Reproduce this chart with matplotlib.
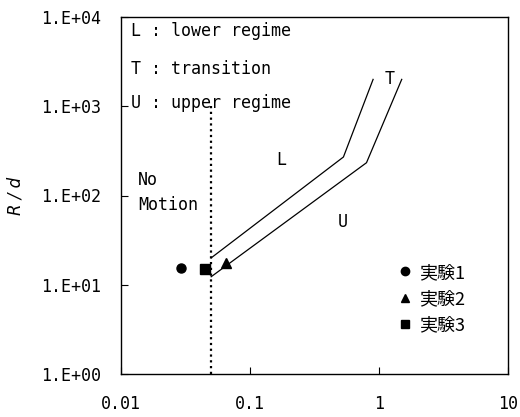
import matplotlib.pyplot as plt

# boundary lines of the transition band
upper_x = [0.05, 0.53, 0.9]
upper_y = [20, 270, 2000]
lower_x = [0.05, 0.8, 1.5]
lower_y = [12.3, 233, 2000]

# no-motion limit
limit_x = 0.05
limit_y = [1, 1000]

# experiments
exp_labels = ['実験1', '実験2', '実験3']
exp_x = [0.029, 0.065, 0.045]
exp_y = [15.3, 17.5, 15.0]
exp_markers = ['o', '^', 's']

mono = ['DejaVu Sans Mono', 'Noto Sans CJK JP']
plt.rcParams['font.family'] = mono

fig = plt.figure(figsize=(5.2, 4.17), dpi=100)
ax = fig.add_axes([121/520, 1 - 374/417, (508 - 121)/520, (374 - 17)/417])

ax.plot(upper_x, upper_y, color='black', lw=0.9)
ax.plot(lower_x, lower_y, color='black', lw=0.9)
ax.plot([limit_x, limit_x], limit_y, color='black', lw=1.6, linestyle=(0, (1.0, 1.6)))

for lab, x, y, m in zip(exp_labels, exp_x, exp_y, exp_markers):
    ax.plot([x], [y], marker=m, linestyle='none', color='black', markersize=6.5, label=lab)

ax.set_xscale('log')
ax.set_yscale('log')
ax.set_xlim(0.01, 10)
ax.set_ylim(1, 1e4)
ax.set_xticks([0.01, 0.1, 1, 10])
ax.set_xticklabels(['0.01', '0.1', '1', '10'])
ax.set_yticks([1, 10, 100, 1000, 10000])
ax.set_yticklabels(['1.E+00', '1.E+01', '1.E+02', '1.E+03', '1.E+04'])
ax.minorticks_off()
ax.tick_params(direction='in', length=5, labelsize=12, pad=14)
ax.tick_params(axis='x', pad=15)
for s in ax.spines.values():
    s.set_linewidth(1.0)

ax.set_ylabel('R / d', fontsize=12, style='italic', family='DejaVu Sans', labelpad=12)

ax.text(0.025, 0.985, 'L : lower regime', transform=ax.transAxes, fontsize=12, va='top')
ax.text(0.025, 0.88, 'T : transition', transform=ax.transAxes, fontsize=12, va='top')
ax.text(0.025, 0.785, 'U : upper regime', transform=ax.transAxes, fontsize=12, va='top')
ax.text(0.0135, 108, 'No\nMotion', fontsize=12, va='center', linespacing=1.5)
ax.text(0.175, 250, 'L', fontsize=12, ha='center', va='center')
ax.text(0.52, 50, 'U', fontsize=12, ha='center', va='center')
ax.text(1.2, 2000, 'T', fontsize=12, ha='center', va='center')

leg = ax.legend(loc='upper left', bbox_to_anchor=(0.697, 0.334), frameon=False,
                handlelength=0.6, handletextpad=0.45, labelspacing=0.45, borderpad=0,
                prop={'family': 'Noto Sans CJK JP', 'size': 13})
for h in leg.legend_handles:
    h.set_markersize(6)

fig.savefig('out.png', dpi=100)
